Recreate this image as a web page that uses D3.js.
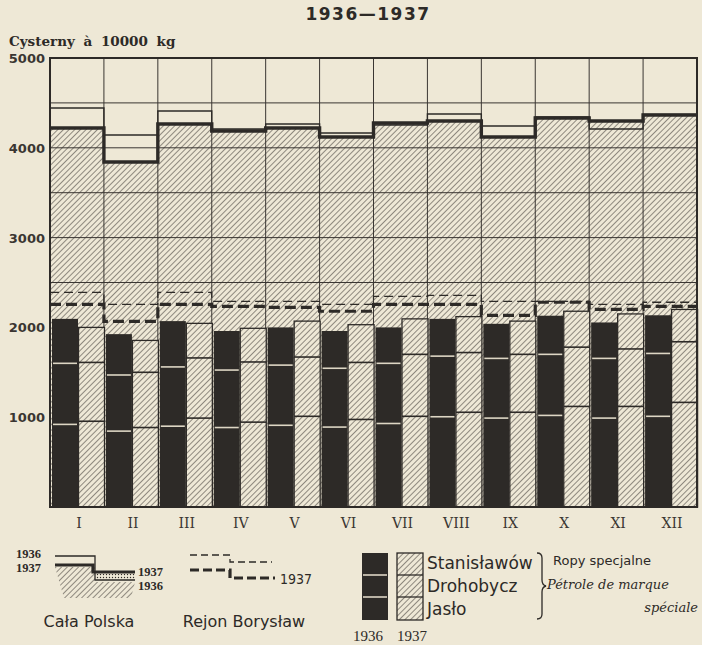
<!DOCTYPE html>
<html>
<head>
<meta charset="utf-8">
<script src="https://cdn.jsdelivr.net/npm/d3@7"></script>
<style>
    body { margin: 0; background: #eee8d6; }
    svg { display: block; }
</style>
</head>
<body>
<div id="chart"></div>
<script>
// Months (Roman numerals)
const months = ["I", "II", "III", "IV", "V", "VI", "VII", "VIII", "IX", "X", "XI", "XII"];

// Cała Polska - total (cisterns a 10000 kg)
const polska1936 = [4443, 4143, 4410, 4209, 4265, 4165, 4254, 4376, 4243, 4343, 4209, 4372];
const polska1937 = [4220, 3842, 4265, 4187, 4220, 4120, 4276, 4298, 4120, 4332, 4298, 4365];

// Rejon Borysław
const boryslaw1936 = [2390, 2257, 2390, 2290, 2290, 2257, 2346, 2357, 2290, 2290, 2257, 2280];
const boryslaw1937 = [2257, 2067, 2257, 2235, 2223, 2180, 2257, 2257, 2134, 2280, 2201, 2235];

// Ropy specjalne, 1936 (dark bars)
const jaslo1936 = [920, 845, 900, 885, 910, 890, 930, 1005, 990, 1020, 990, 1010];
const drohobycz1936 = [680, 625, 660, 640, 670, 655, 670, 675, 665, 680, 665, 700];
const stanislawow1936 = [495, 455, 510, 435, 420, 415, 400, 415, 385, 430, 400, 425];

// Ropy specjalne, 1937 (hatched bars)
const jaslo1937 = [955, 885, 990, 945, 1010, 975, 1010, 1055, 1055, 1120, 1120, 1165];
const drohobycz1937 = [655, 615, 670, 670, 660, 635, 690, 665, 645, 660, 640, 675];
const stanislawow1937 = [390, 355, 385, 375, 400, 420, 395, 400, 370, 400, 390, 360];

const yTicks = [1000, 2000, 3000, 4000, 5000];
const gridLines = [2500, 3000, 3500, 4000, 4500];

const ink = "#2d2a27",
    paper = "#eee8d6";

let svg = d3.select("#chart").append("svg")
    .attr("width", 702)
    .attr("height", 645)
    .style("background", paper);

// Hatch pattern and dotted pattern
let defs = svg.append("defs");
defs.append("pattern")
    .attr("id", "hatch")
    .attr("patternUnits", "userSpaceOnUse")
    .attr("width", 4)
    .attr("height", 4)
    .attr("patternTransform", "rotate(45)")
    .append("line")
        .attr("x1", 0).attr("y1", 0)
        .attr("x2", 0).attr("y2", 4)
        .attr("stroke", "#4d4843")
        .attr("stroke-width", 1.2);
let dots = defs.append("pattern")
    .attr("id", "dots")
    .attr("patternUnits", "userSpaceOnUse")
    .attr("width", 3)
    .attr("height", 3);
dots.append("circle")
    .attr("cx", 1.5).attr("cy", 1.5).attr("r", 0.7)
    .attr("fill", ink);

// Scales
let x = d3.scaleBand()
    .domain(months)
    .range([50, 697]);
let y = d3.scaleLinear()
    .domain([0, 5000])
    .range([507, 58]);

// Step data: one point per month start, plus end point
function steps(values) {
    let pts = values.map((v, i) => [x(months[i]), y(v)]);
    pts.push([x.range()[1], y(values[values.length - 1])]);
    return pts;
}
let stepLine = d3.line().curve(d3.curveStepAfter);

// Hatched area below Cała Polska 1937
let areaPts = steps(polska1937);
svg.append("path")
    .attr("d", d3.area()
        .curve(d3.curveStepAfter)
        .x(d => d[0])
        .y0(y(0))
        .y1(d => d[1])(areaPts))
    .attr("fill", "url(#hatch)");

// Horizontal grid
svg.append("g")
    .selectAll("line")
    .data(gridLines)
    .join("line")
        .attr("x1", x.range()[0])
        .attr("x2", x.range()[1])
        .attr("y1", d => y(d))
        .attr("y2", d => y(d))
        .attr("stroke", "#3a3632")
        .attr("stroke-width", 1);

// Vertical month boundaries
svg.append("g")
    .selectAll("line")
    .data(months.slice(1))
    .join("line")
        .attr("x1", d => x(d))
        .attr("x2", d => x(d))
        .attr("y1", y(5000))
        .attr("y2", y(0))
        .attr("stroke", "#3a3632")
        .attr("stroke-width", 1);

// Stacked bars
function stackOf(j, d, s) {
    return months.map((m, i) => ({
        month: m,
        parts: [[0, j[i]], [j[i], j[i] + d[i]], [j[i] + d[i], j[i] + d[i] + s[i]]]
    }));
}
let bars1936 = stackOf(jaslo1936, drohobycz1936, stanislawow1936),
    bars1937 = stackOf(jaslo1937, drohobycz1937, stanislawow1937);

// 1936 - dark bars with light separators
let g36 = svg.append("g")
    .selectAll("g")
    .data(bars1936)
    .join("g");
g36.append("rect")
    .attr("x", d => x(d.month) + 2)
    .attr("width", 26)
    .attr("y", d => y(d.parts[2][1]))
    .attr("height", d => y(0) - y(d.parts[2][1]))
    .attr("fill", ink);
g36.selectAll("line")
    .data(d => d.parts.slice(1).map(p => ({month: d.month, v: p[0]})))
    .join("line")
        .attr("x1", d => x(d.month) + 3)
        .attr("x2", d => x(d.month) + 27)
        .attr("y1", d => y(d.v))
        .attr("y2", d => y(d.v))
        .attr("stroke", "#ddd6c4")
        .attr("stroke-width", 1.6);

// 1937 - hatched bars with dark separators
let g37 = svg.append("g")
    .selectAll("g")
    .data(bars1937)
    .join("g");
g37.append("rect")
    .attr("x", d => x(d.month) + 28.5)
    .attr("width", 26)
    .attr("y", d => y(d.parts[2][1]))
    .attr("height", d => y(0) - y(d.parts[2][1]))
    .attr("fill", paper);
g37.append("rect")
    .attr("x", d => x(d.month) + 28.5)
    .attr("width", 26)
    .attr("y", d => y(d.parts[2][1]))
    .attr("height", d => y(0) - y(d.parts[2][1]))
    .attr("fill", "url(#hatch)")
    .attr("stroke", ink)
    .attr("stroke-width", 1.3);
g37.selectAll("line")
    .data(d => d.parts.slice(1).map(p => ({month: d.month, v: p[0]})))
    .join("line")
        .attr("x1", d => x(d.month) + 28.5)
        .attr("x2", d => x(d.month) + 54.5)
        .attr("y1", d => y(d.v))
        .attr("y2", d => y(d.v))
        .attr("stroke", ink)
        .attr("stroke-width", 1.6);

// Rejon Borysław - dashed step lines
svg.append("path")
    .attr("d", stepLine(steps(boryslaw1936)))
    .attr("fill", "none")
    .attr("stroke", ink)
    .attr("stroke-width", 1.3)
    .attr("stroke-dasharray", "9,5");
svg.append("path")
    .attr("d", stepLine(steps(boryslaw1937)))
    .attr("fill", "none")
    .attr("stroke", ink)
    .attr("stroke-width", 3.2)
    .attr("stroke-dasharray", "11,5");

// Cała Polska - solid step lines
svg.append("path")
    .attr("d", stepLine(steps(polska1936)))
    .attr("fill", "none")
    .attr("stroke", ink)
    .attr("stroke-width", 1.4);
svg.append("path")
    .attr("d", stepLine(steps(polska1937)))
    .attr("fill", "none")
    .attr("stroke", ink)
    .attr("stroke-width", 3.4);

// Frame
svg.append("rect")
    .attr("x", x.range()[0])
    .attr("y", y(5000))
    .attr("width", x.range()[1] - x.range()[0])
    .attr("height", y(0) - y(5000))
    .attr("fill", "none")
    .attr("stroke", ink)
    .attr("stroke-width", 2);

// Y axis labels
svg.append("g")
    .selectAll("text")
    .data(yTicks)
    .join("text")
        .attr("x", 45)
        .attr("y", d => y(d) + 5)
        .attr("text-anchor", "end")
        .attr("font-family", "DejaVu Sans")
        .attr("font-weight", "bold")
        .attr("font-size", 13)
        .attr("fill", "#3a3632")
        .text(d => d);

// X axis labels
svg.append("g")
    .selectAll("text")
    .data(months)
    .join("text")
        .attr("x", d => x(d) + 29)
        .attr("y", 528)
        .attr("text-anchor", "middle")
        .attr("font-family", "DejaVu Serif")
        .attr("font-size", 14)
        .attr("fill", "#3a3632")
        .text(d => d);

// Title and unit
svg.append("text")
    .attr("x", 368)
    .attr("y", 20)
    .attr("text-anchor", "middle")
    .attr("font-family", "DejaVu Sans")
    .attr("font-weight", "bold")
    .attr("font-size", 17)
    .attr("letter-spacing", 1.5)
    .attr("fill", ink)
    .text("1936\u20141937");
svg.append("text")
    .attr("x", 9)
    .attr("y", 46)
    .attr("font-family", "DejaVu Serif")
    .attr("font-weight", "bold")
    .attr("font-size", 13.5)
    .attr("word-spacing", 4)
    .attr("fill", ink)
    .text("Cysterny à 10000 kg");

// Legend: Cała Polska
let lg = svg.append("g")
    .attr("fill", ink)
    .attr("font-family", "Liberation Serif")
    .attr("font-weight", "bold")
    .attr("font-size", 12.5);
lg.append("path")
    .attr("d", "M55,567 H95 V582 H135 L131,598 H64 Z")
    .attr("fill", "url(#hatch)");
lg.append("rect")
    .attr("x", 95).attr("y", 574).attr("width", 40).attr("height", 5)
    .attr("fill", "url(#dots)");
lg.append("path")
    .attr("d", "M55,556 H95 V580 H135")
    .attr("fill", "none").attr("stroke", ink).attr("stroke-width", 1.3);
lg.append("path")
    .attr("d", "M55,565 H93 V572 H135")
    .attr("fill", "none").attr("stroke", ink).attr("stroke-width", 3.2);
lg.append("text").attr("x", 16).attr("y", 558).text("1936");
lg.append("text").attr("x", 16).attr("y", 572).text("1937");
lg.append("text").attr("x", 138).attr("y", 576).text("1937");
lg.append("text").attr("x", 138).attr("y", 590).text("1936");

// Legend: Rejon Borysław
lg.append("path")
    .attr("d", "M190,555 H230 V562 H272")
    .attr("fill", "none").attr("stroke", ink).attr("stroke-width", 1.3)
    .attr("stroke-dasharray", "7,4");
lg.append("path")
    .attr("d", "M190,570 H230 V578 H275")
    .attr("fill", "none").attr("stroke", ink).attr("stroke-width", 3.2)
    .attr("stroke-dasharray", "9,4");
lg.append("text")
    .attr("x", 280).attr("y", 584)
    .attr("font-weight", "normal").attr("font-family", "DejaVu Sans Condensed")
    .attr("font-size", 14)
    .text("1937");

svg.append("text")
    .attr("x", 89).attr("y", 627)
    .attr("text-anchor", "middle")
    .attr("font-family", "DejaVu Sans")
    .attr("font-size", 16)
    .attr("fill", ink)
    .text("Cała Polska");
svg.append("text")
    .attr("x", 244).attr("y", 627)
    .attr("text-anchor", "middle")
    .attr("font-family", "DejaVu Sans")
    .attr("font-size", 16)
    .attr("fill", ink)
    .text("Rejon Borysław");

// Legend: Ropy specjalne boxes
let boxY = [553, 575, 597, 620];
svg.append("rect")
    .attr("x", 362).attr("y", boxY[0]).attr("width", 26).attr("height", boxY[3] - boxY[0])
    .attr("fill", ink);
svg.append("g")
    .selectAll("line")
    .data(boxY.slice(1, 3))
    .join("line")
        .attr("x1", 363).attr("x2", 387)
        .attr("y1", d => d).attr("y2", d => d)
        .attr("stroke", "#ddd6c4").attr("stroke-width", 1.6);
svg.append("rect")
    .attr("x", 397).attr("y", boxY[0]).attr("width", 26).attr("height", boxY[3] - boxY[0])
    .attr("fill", "url(#hatch)")
    .attr("stroke", ink).attr("stroke-width", 1.3);
svg.append("g")
    .selectAll("line")
    .data(boxY.slice(1, 3))
    .join("line")
        .attr("x1", 397).attr("x2", 423)
        .attr("y1", d => d).attr("y2", d => d)
        .attr("stroke", ink).attr("stroke-width", 1.3);

let names = ["Stanisławów", "Drohobycz", "Jasło"];
svg.append("g")
    .selectAll("text")
    .data(names)
    .join("text")
        .attr("x", 427)
        .attr("y", (d, i) => 569 + i * 23)
        .attr("font-family", "DejaVu Sans")
        .attr("font-size", 17)
        .attr("fill", ink)
        .text(d => d);

// Brace
svg.append("path")
    .attr("d", "M537,553 Q542,553 542,558 V580 Q542,585 546,586 Q542,587 542,592 V614 Q542,619 537,619")
    .attr("fill", "none")
    .attr("stroke", ink)
    .attr("stroke-width", 1.3);

svg.append("text")
    .attr("x", 553).attr("y", 565)
    .attr("font-family", "DejaVu Sans")
    .attr("font-size", 13)
    .attr("fill", ink)
    .text("Ropy specjalne");
svg.append("text")
    .attr("x", 547).attr("y", 589)
    .attr("font-family", "DejaVu Serif")
    .attr("font-style", "italic")
    .attr("font-size", 13)
    .attr("fill", ink)
    .text("Pétrole de marque");
svg.append("text")
    .attr("x", 698).attr("y", 612)
    .attr("text-anchor", "end")
    .attr("font-family", "DejaVu Serif")
    .attr("font-style", "italic")
    .attr("font-size", 13)
    .attr("fill", ink)
    .text("spéciale");

svg.append("text")
    .attr("x", 353).attr("y", 641)
    .attr("font-family", "Liberation Serif")
    .attr("font-size", 15)
    .attr("fill", ink)
    .text("1936");
svg.append("text")
    .attr("x", 397).attr("y", 641)
    .attr("font-family", "Liberation Serif")
    .attr("font-size", 15)
    .attr("fill", ink)
    .text("1937");
</script>
</body>
</html>
